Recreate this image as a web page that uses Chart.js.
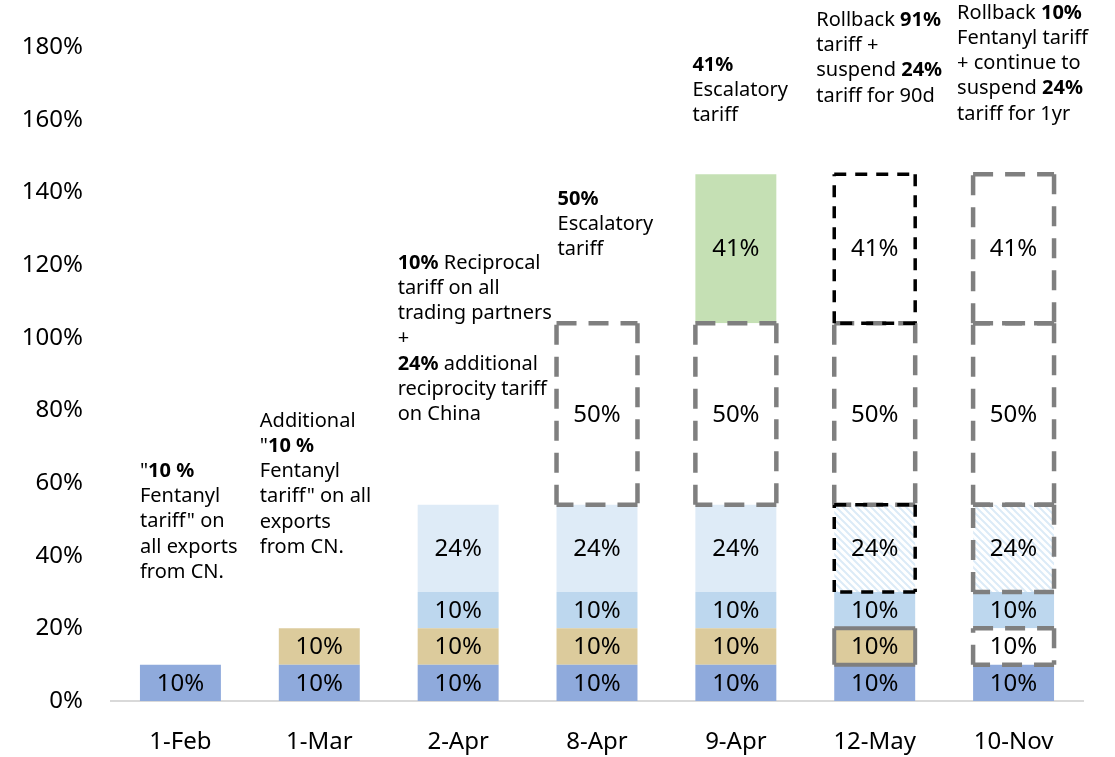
<!DOCTYPE html>
<html>
<head>
<meta charset="utf-8">
<script src="https://cdn.jsdelivr.net/npm/chart.js"></script>
<style>
  html, body { margin: 0; padding: 0; background: #fff; overflow: hidden; }
  #wrap { width: 1115px; height: 757px; }
</style>
</head>
<body>
<div id="wrap"><canvas id="tariffChart"></canvas></div>
<script>
const categories = ['1-Feb', '1-Mar', '2-Apr', '8-Apr', '9-Apr', '12-May', '10-Nov'];
const yTicks = [0, 20, 40, 60, 80, 100, 120, 140, 160, 180];

// stacked segments, bottom to top (percent)
const fentanylFeb = [10, 10, 10, 10, 10, 10, 10];
const fentanylMar = [null, 10, 10, 10, 10, 10, 10];
const reciprocal = [null, null, 10, 10, 10, 10, 10];
const reciprocity = [null, null, 24, 24, 24, 24, 24];
const escalatory50 = [null, null, null, 50, 50, 50, 50];
const escalatory41 = [null, null, null, null, 41, 41, 41];

// annotation text above each date (**bold**)
const notes = [
  ['"**10 %**', 'Fentanyl', 'tariff" on', 'all exports', 'from CN.'],
  ['Additional', '"**10 %**', 'Fentanyl', 'tariff" on all', 'exports', 'from CN.'],
  ['**10%** Reciprocal', 'tariff on all', 'trading partners', '+', '**24%** additional', 'reciprocity tariff', 'on China'],
  ['**50%**', 'Escalatory', 'tariff'],
  ['**41%**', 'Escalatory', 'tariff'],
  ['Rollback **91%**', 'tariff +', 'suspend **24%**', 'tariff for 90d'],
  ['Rollback **10%**', 'Fentanyl tariff', '+ continue to', 'suspend **24%**', 'tariff for 1yr']
];
// where each note starts: first line centre (value) and shift from bar left (px)
const noteY = [63.3, 77.1, 120.6, 138.2, 175.1, 187.4, 189.4];
const noteDx = [0, -19, -20, 1, -3, -18, -16];

const FONT = '"Noto Sans", "Open Sans", sans-serif';

// diagonal hatch for suspended 24%
function hatch() {
  const c = document.createElement('canvas');
  c.width = 7; c.height = 7;
  const g = c.getContext('2d');
  g.fillStyle = '#ffffff';
  g.fillRect(0, 0, 7, 7);
  g.strokeStyle = '#dcebf7';
  g.lineWidth = 2;
  g.beginPath();
  g.moveTo(-1, -1); g.lineTo(8, 8);
  g.moveTo(-8, -1); g.lineTo(1, 8);
  g.moveTo(6, -1); g.lineTo(15, 8);
  g.stroke();
  return g.createPattern(c, 'repeat');
}
const stripes = hatch();

const outlineStyles = {
  gray: { color: '#7f7f7f', width: 4.5, dash: [20, 12] },
  black: { color: '#000000', width: 3.5, dash: [12, 9] },
  solid: { color: '#7f7f7f', width: 4, dash: [] }
};

const outlinePlugin = {
  id: 'outlines',
  afterDatasetsDraw(chart) {
    const ctx = chart.ctx;
    const jobs = [];
    chart.data.datasets.forEach((ds, di) => {
      const meta = chart.getDatasetMeta(di);
      (ds.outline || []).forEach((key, i) => {
        if (!key || ds.data[i] == null) return;
        jobs.push({ key, el: meta.data[i] });
      });
    });
    // gray first so black boxes sit on top
    const order = { solid: 0, gray: 1, black: 2 };
    jobs.sort((a, b) => order[a.key] - order[b.key]);
    jobs.forEach(({ key, el }) => {
      const s = outlineStyles[key];
      const l = el.x - el.width / 2, r = el.x + el.width / 2;
      const t = Math.min(el.y, el.base), b = Math.max(el.y, el.base);
      ctx.save();
      ctx.strokeStyle = s.color;
      ctx.lineWidth = s.width;
      ctx.setLineDash(s.dash);
      ctx.lineJoin = 'round';
      ctx.beginPath();
      ctx.moveTo(l, b); ctx.lineTo(l, t);
      ctx.moveTo(l, t); ctx.lineTo(r, t);
      ctx.moveTo(r, t); ctx.lineTo(r, b);
      ctx.moveTo(r, b); ctx.lineTo(l, b);
      ctx.stroke();
      ctx.restore();
    });

    // segment value labels
    ctx.save();
    ctx.font = '24px ' + FONT;
    ctx.fillStyle = '#000';
    ctx.textAlign = 'center';
    ctx.textBaseline = 'middle';
    chart.data.datasets.forEach((ds, di) => {
      const meta = chart.getDatasetMeta(di);
      ds.data.forEach((v, i) => {
        if (v == null) return;
        const el = meta.data[i];
        ctx.fillText(v + '%', el.x, (el.y + el.base) / 2 + 1);
      });
    });
    ctx.restore();
  }
};

const notesPlugin = {
  id: 'notes',
  afterDraw(chart) {
    const ctx = chart.ctx;
    const meta = chart.getDatasetMeta(0);
    const yScale = chart.scales.y;
    const lineH = 25.3;
    ctx.save();
    ctx.fillStyle = '#000';
    ctx.textAlign = 'left';
    ctx.textBaseline = 'middle';
    notes.forEach((lines, i) => {
      const el = meta.data[i];
      const x0 = el.x - el.width / 2 + noteDx[i];
      let y = yScale.getPixelForValue(noteY[i]);
      lines.forEach(line => {
        let x = x0;
        line.split('**').forEach((part, k) => {
          if (!part) return;
          ctx.font = (k % 2 ? 'bold ' : '') + '20px ' + FONT;
          ctx.fillText(part, x, y);
          x += ctx.measureText(part).width;
        });
        y += lineH;
      });
    });
    ctx.restore();
  }
};

const tan = '#dccb9c';
const ctx = document.getElementById('tariffChart').getContext('2d');

new Chart(ctx, {
  type: 'bar',
  data: {
    labels: categories,
    datasets: [
      { label: 'Fentanyl (Feb)', data: fentanylFeb, backgroundColor: '#8faadc' },
      { label: 'Fentanyl (Mar)', data: fentanylMar,
        backgroundColor: [tan, tan, tan, tan, tan, tan, '#ffffff'],
        outline: [null, null, null, null, null, 'solid', 'gray'] },
      { label: 'Reciprocal', data: reciprocal, backgroundColor: '#bdd7ee' },
      { label: 'Reciprocity', data: reciprocity,
        backgroundColor: ['#deebf7', '#deebf7', '#deebf7', '#deebf7', '#deebf7', stripes, stripes],
        outline: [null, null, null, null, null, 'black', 'gray'] },
      { label: 'Escalatory 50%', data: escalatory50, backgroundColor: '#ffffff',
        outline: [null, null, null, 'gray', 'gray', 'gray', 'gray'] },
      { label: 'Escalatory 41%', data: escalatory41,
        backgroundColor: ['#ffffff', '#ffffff', '#ffffff', '#ffffff', '#c5e0b4', '#ffffff', '#ffffff'],
        outline: [null, null, null, null, null, 'black', 'gray'] }
    ]
  },
  options: {
    responsive: true,
    maintainAspectRatio: false,
    animation: false,
    layout: { padding: { top: 47, right: 32, bottom: 0, left: 0 } },
    datasets: { bar: { categoryPercentage: 1, barPercentage: 0.583, borderWidth: 0 } },
    plugins: {
      legend: { display: false },
      tooltip: { enabled: false }
    },
    scales: {
      x: {
        stacked: true,
        afterFit(scale) { scale.height = 56; },
        grid: { display: false, drawTicks: false },
        border: { display: true, color: '#d9d9d9', width: 2 },
        ticks: { color: '#000', font: { family: FONT, size: 24 }, padding: 27 }
      },
      y: {
        stacked: true,
        min: 0,
        max: 180,
        afterFit(scale) { scale.width = 111; },
        afterBuildTicks(scale) { scale.ticks = yTicks.map(v => ({ value: v })); },
        grid: { display: false, drawTicks: false },
        border: { display: false },
        ticks: {
          color: '#000',
          padding: 28,
          font: { family: FONT, size: 24 },
          callback: v => v + '%'
        }
      }
    }
  },
  plugins: [outlinePlugin, notesPlugin]
});
</script>
</body>
</html>
